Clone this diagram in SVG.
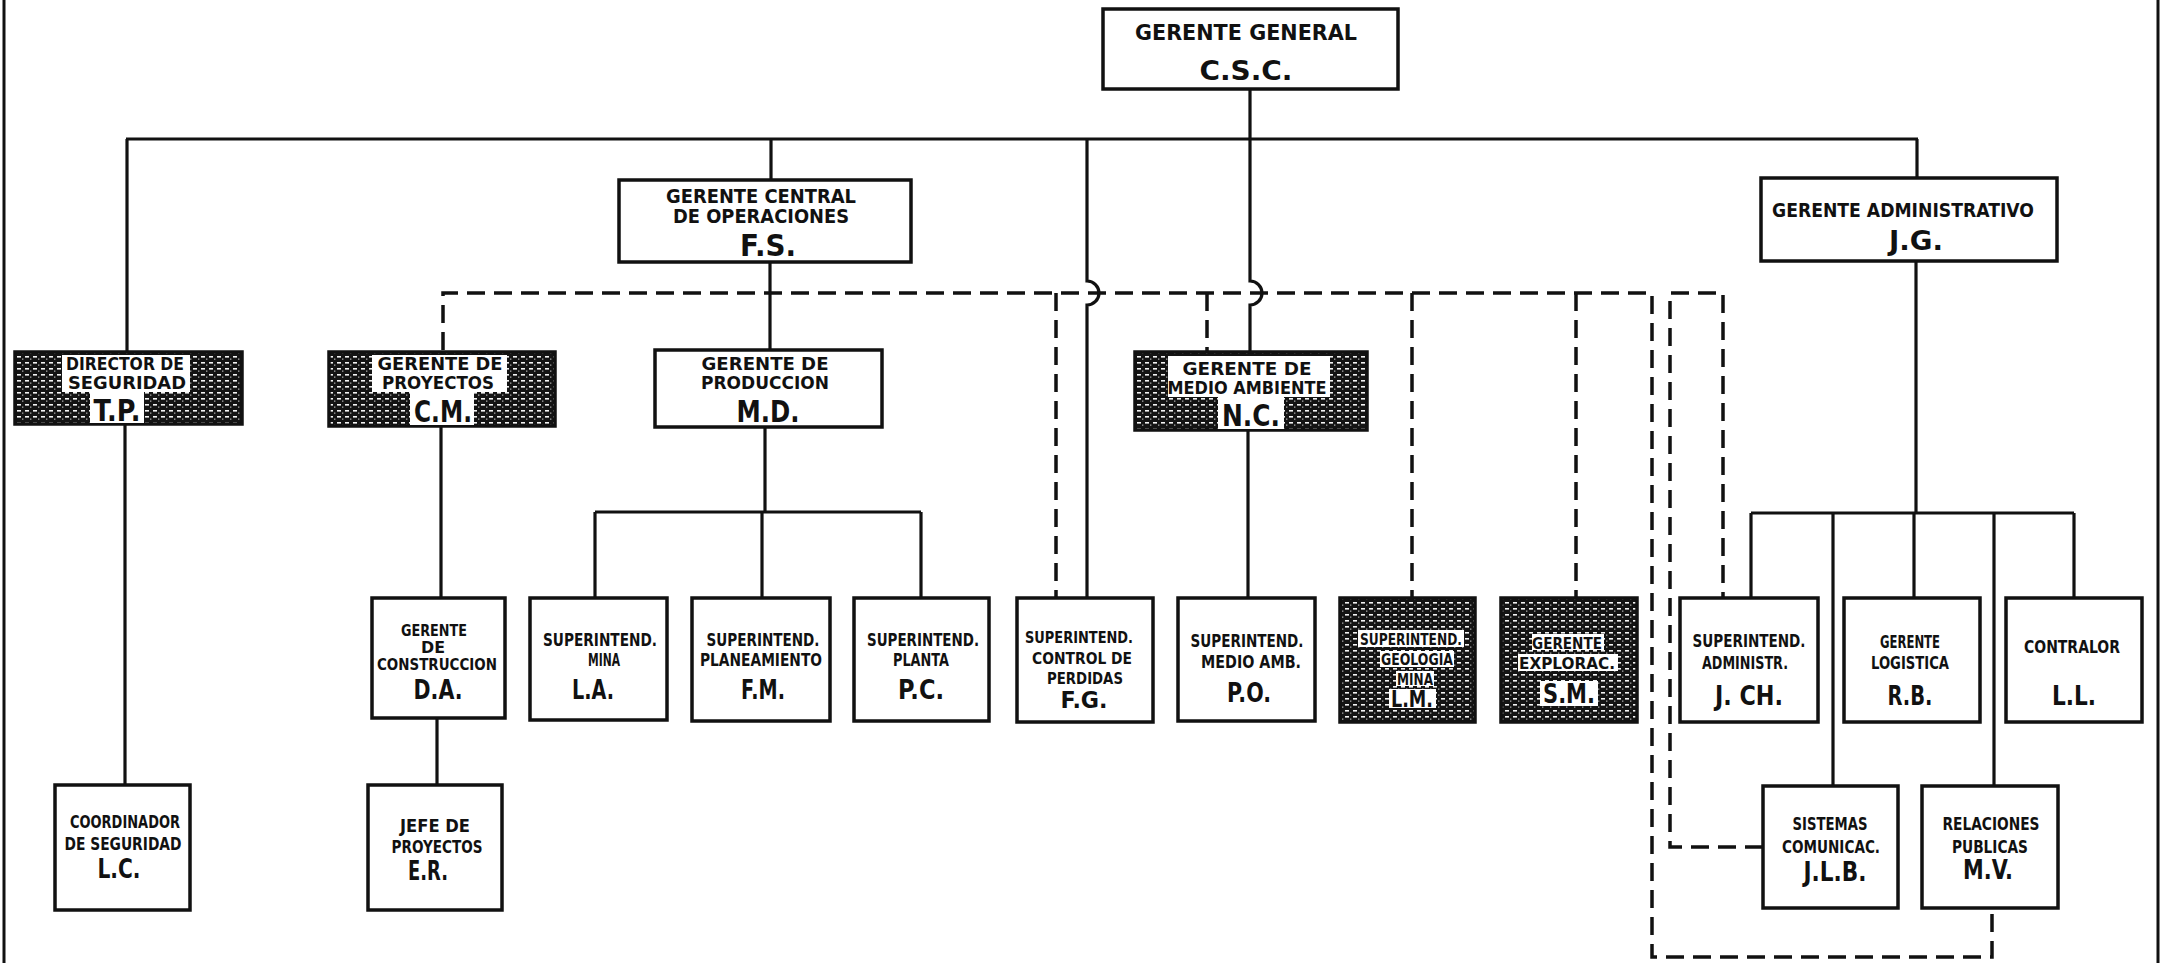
<svg xmlns="http://www.w3.org/2000/svg" width="2163" height="963" viewBox="0 0 2163 963">
<defs>
<pattern id="halftone" width="8" height="6" patternUnits="userSpaceOnUse">
<rect width="8" height="6" fill="#141414"/>
<rect x="1" y="2" width="4" height="1.6" fill="#f4f4f4"/>
<rect x="6" y="4.6" width="1.4" height="1" fill="#d0d0d0"/>
</pattern>
<style>
.box{fill:#fff;stroke:#111;stroke-width:3.5}
.hbox{fill:url(#halftone);stroke:#111;stroke-width:3.5}
.patch{fill:#fff}
.ln{fill:none;stroke:#111;stroke-width:3.2}
.dash{fill:none;stroke:#111;stroke-width:3.5;stroke-dasharray:18 9}
.border{fill:none;stroke:#111;stroke-width:3}
text{font-family:"DejaVu Sans","Liberation Sans",sans-serif;font-weight:bold;fill:#111;text-anchor:middle}
.t18{font-size:18px}
.t20{font-size:20px}
.t21{font-size:21px}
.big{font-size:30px}
.mid{font-size:26px}
.mid2{font-size:23px}
.sm{font-size:17px}
.xs{font-size:15px}
</style>
</defs>
<rect width="2163" height="963" fill="#fff"/>
<g id="page-border">
<path class="border" d="M4 0 V963"/>
<path class="border" d="M2158 0 V963"/>
</g>
<g id="connectors">
<path class="ln" d="M126 139 H1918"/>
<path class="ln" d="M1250 89 V281 A12 12 0 0 1 1250 305 V352"/>
<path class="ln" d="M127 139 V352"/>
<path class="ln" d="M771 139 V180"/>
<path class="ln" d="M1087 139 V281 A12 12 0 0 1 1087 305 V598"/>
<path class="ln" d="M1917 139 V178"/>
<path class="ln" d="M770 262 V350"/>
<path class="ln" d="M125 424 V785"/>
<path class="ln" d="M441 426 V598"/>
<path class="ln" d="M437 718 V785"/>
<path class="ln" d="M765 427 V512"/>
<path class="ln" d="M595 512 H921"/>
<path class="ln" d="M595 512 V598"/>
<path class="ln" d="M762 512 V598"/>
<path class="ln" d="M921 512 V598"/>
<path class="ln" d="M1248 430 V598"/>
<path class="ln" d="M1916 261 V513"/>
<path class="ln" d="M1751 513 H2074"/>
<path class="ln" d="M1751 513 V598"/>
<path class="ln" d="M1833 513 V786"/>
<path class="ln" d="M1914 513 V598"/>
<path class="ln" d="M1994 513 V786"/>
<path class="ln" d="M2074 513 V598"/>
<path class="dash" d="M443 350 V293 H1652 V957 H1992 V908"/>
<path class="dash" d="M1056 293 V598"/>
<path class="dash" d="M1207 293 V352"/>
<path class="dash" d="M1412 293 V598"/>
<path class="dash" d="M1576 293 V598"/>
<path class="dash" d="M1763 847 H1670 V293 H1723 V598"/>
</g>
<g id="gerente-general">
<rect class="box" x="1103" y="9" width="295" height="80"/>
<text class="t21" x="1246" y="40" textLength="222" lengthAdjust="spacingAndGlyphs">GERENTE GENERAL</text>
<text class="mid" x="1246" y="80" textLength="93" lengthAdjust="spacingAndGlyphs">C.S.C.</text>
</g>
<g id="gerente-central-operaciones">
<rect class="box" x="619" y="180" width="292" height="82"/>
<text class="t20" x="761" y="203" textLength="190" lengthAdjust="spacingAndGlyphs">GERENTE CENTRAL</text>
<text class="t20" x="761" y="223" textLength="176" lengthAdjust="spacingAndGlyphs">DE OPERACIONES</text>
<text class="big" x="768" y="256" textLength="56" lengthAdjust="spacingAndGlyphs">F.S.</text>
</g>
<g id="gerente-administrativo">
<rect class="box" x="1761" y="178" width="296" height="83"/>
<text class="t20" x="1903" y="217" textLength="262" lengthAdjust="spacingAndGlyphs">GERENTE ADMINISTRATIVO</text>
<text class="mid" x="1916" y="250" textLength="54" lengthAdjust="spacingAndGlyphs">J.G.</text>
</g>
<g id="director-seguridad">
<rect class="hbox" x="15" y="352" width="227" height="72"/>
<rect class="patch" x="62" y="355" width="128" height="37"/>
<rect class="patch" x="90" y="392" width="54" height="31"/>
<text class="t18" x="125" y="370" textLength="118" lengthAdjust="spacingAndGlyphs">DIRECTOR DE</text>
<text class="t18" x="127" y="389" textLength="118" lengthAdjust="spacingAndGlyphs">SEGURIDAD</text>
<text class="big" x="117" y="421" textLength="47" lengthAdjust="spacingAndGlyphs">T.P.</text>
</g>
<g id="gerente-proyectos">
<rect class="hbox" x="329" y="352" width="226" height="74"/>
<rect class="patch" x="372" y="355" width="135" height="37"/>
<rect class="patch" x="410" y="392" width="64" height="33"/>
<text class="t18" x="440" y="370" textLength="125" lengthAdjust="spacingAndGlyphs">GERENTE DE</text>
<text class="t18" x="438" y="389" textLength="112" lengthAdjust="spacingAndGlyphs">PROYECTOS</text>
<text class="big" x="443" y="422" textLength="58" lengthAdjust="spacingAndGlyphs">C.M.</text>
</g>
<g id="gerente-produccion">
<rect class="box" x="655" y="350" width="227" height="77"/>
<text class="t18" x="765" y="370" textLength="127" lengthAdjust="spacingAndGlyphs">GERENTE DE</text>
<text class="t18" x="765" y="389" textLength="128" lengthAdjust="spacingAndGlyphs">PRODUCCION</text>
<text class="big" x="768" y="422" textLength="63" lengthAdjust="spacingAndGlyphs">M.D.</text>
</g>
<g id="gerente-medio-ambiente">
<rect class="hbox" x="1135" y="352" width="232" height="78"/>
<rect class="patch" x="1168" y="356" width="162" height="41"/>
<rect class="patch" x="1218" y="397" width="66" height="32"/>
<text class="t18" x="1247" y="375" textLength="129" lengthAdjust="spacingAndGlyphs">GERENTE DE</text>
<text class="t18" x="1247" y="394" textLength="159" lengthAdjust="spacingAndGlyphs">MEDIO AMBIENTE</text>
<text class="big" x="1251" y="426" textLength="58" lengthAdjust="spacingAndGlyphs">N.C.</text>
</g>
<g id="gerente-construccion">
<rect class="box" x="372" y="598" width="133" height="120"/>
<text class="xs" x="434" y="636" textLength="66" lengthAdjust="spacingAndGlyphs">GERENTE</text>
<text class="xs" x="433" y="653" textLength="24" lengthAdjust="spacingAndGlyphs">DE</text>
<text class="xs" x="437" y="670" textLength="120" lengthAdjust="spacingAndGlyphs">CONSTRUCCION</text>
<text class="mid" x="438" y="699" textLength="49" lengthAdjust="spacingAndGlyphs">D.A.</text>
</g>
<g id="superintend-mina">
<rect class="box" x="530" y="598" width="137" height="122"/>
<text class="sm" x="600" y="646" textLength="114" lengthAdjust="spacingAndGlyphs">SUPERINTEND.</text>
<text class="sm" x="604" y="666" textLength="32" lengthAdjust="spacingAndGlyphs">MINA</text>
<text class="mid" x="593" y="699" textLength="42" lengthAdjust="spacingAndGlyphs">L.A.</text>
</g>
<g id="superintend-planeamiento">
<rect class="box" x="692" y="598" width="138" height="123"/>
<text class="sm" x="763" y="646" textLength="113" lengthAdjust="spacingAndGlyphs">SUPERINTEND.</text>
<text class="sm" x="761" y="666" textLength="122" lengthAdjust="spacingAndGlyphs">PLANEAMIENTO</text>
<text class="mid" x="763" y="699" textLength="44" lengthAdjust="spacingAndGlyphs">F.M.</text>
</g>
<g id="superintend-planta">
<rect class="box" x="854" y="598" width="135" height="123"/>
<text class="sm" x="923" y="646" textLength="112" lengthAdjust="spacingAndGlyphs">SUPERINTEND.</text>
<text class="sm" x="921" y="666" textLength="56" lengthAdjust="spacingAndGlyphs">PLANTA</text>
<text class="mid" x="921" y="699" textLength="46" lengthAdjust="spacingAndGlyphs">P.C.</text>
</g>
<g id="superintend-control-perdidas">
<rect class="box" x="1017" y="598" width="136" height="124"/>
<text class="xs" x="1079" y="643" textLength="108" lengthAdjust="spacingAndGlyphs">SUPERINTEND.</text>
<text class="xs" x="1082" y="664" textLength="100" lengthAdjust="spacingAndGlyphs">CONTROL DE</text>
<text class="xs" x="1085" y="684" textLength="76" lengthAdjust="spacingAndGlyphs">PERDIDAS</text>
<text class="mid2" x="1084" y="708" textLength="47" lengthAdjust="spacingAndGlyphs">F.G.</text>
</g>
<g id="superintend-medio-amb">
<rect class="box" x="1178" y="598" width="137" height="123"/>
<text class="sm" x="1247" y="647" textLength="113" lengthAdjust="spacingAndGlyphs">SUPERINTEND.</text>
<text class="sm" x="1251" y="668" textLength="100" lengthAdjust="spacingAndGlyphs">MEDIO AMB.</text>
<text class="mid" x="1249" y="702" textLength="44" lengthAdjust="spacingAndGlyphs">P.O.</text>
</g>
<g id="superintend-geologia-mina">
<rect class="hbox" x="1340" y="598" width="135" height="124"/>
<rect class="patch" x="1358" y="630" width="106" height="17"/>
<rect class="patch" x="1380" y="651" width="74" height="16"/>
<rect class="patch" x="1396" y="671" width="38" height="15"/>
<rect class="patch" x="1389" y="689" width="47" height="19"/>
<text class="xs" x="1411" y="645" textLength="102" lengthAdjust="spacingAndGlyphs">SUPERINTEND.</text>
<text class="xs" x="1417" y="665" textLength="72" lengthAdjust="spacingAndGlyphs">GEOLOGIA</text>
<text class="xs" x="1415" y="685" textLength="36" lengthAdjust="spacingAndGlyphs">MINA</text>
<text class="mid2" x="1412" y="707" textLength="42" lengthAdjust="spacingAndGlyphs">L.M.</text>
</g>
<g id="gerente-exploracion">
<rect class="hbox" x="1501" y="598" width="136" height="124"/>
<rect class="patch" x="1532" y="634" width="72" height="16"/>
<rect class="patch" x="1518" y="654" width="100" height="17"/>
<rect class="patch" x="1540" y="681" width="58" height="25"/>
<text class="xs" x="1567" y="649" textLength="70" lengthAdjust="spacingAndGlyphs">GERENTE</text>
<text class="xs" x="1567" y="669" textLength="96" lengthAdjust="spacingAndGlyphs">EXPLORAC.</text>
<text class="mid" x="1569" y="703" textLength="52" lengthAdjust="spacingAndGlyphs">S.M.</text>
</g>
<g id="superintend-administr">
<rect class="box" x="1680" y="598" width="138" height="124"/>
<text class="sm" x="1749" y="647" textLength="113" lengthAdjust="spacingAndGlyphs">SUPERINTEND.</text>
<text class="sm" x="1745" y="669" textLength="86" lengthAdjust="spacingAndGlyphs">ADMINISTR.</text>
<text class="mid" x="1749" y="705" textLength="68" lengthAdjust="spacingAndGlyphs">J. CH.</text>
</g>
<g id="gerente-logistica">
<rect class="box" x="1844" y="598" width="136" height="124"/>
<text class="sm" x="1910" y="648" textLength="60" lengthAdjust="spacingAndGlyphs">GERENTE</text>
<text class="sm" x="1910" y="669" textLength="78" lengthAdjust="spacingAndGlyphs">LOGISTICA</text>
<text class="mid" x="1910" y="705" textLength="45" lengthAdjust="spacingAndGlyphs">R.B.</text>
</g>
<g id="contralor">
<rect class="box" x="2006" y="598" width="136" height="124"/>
<text class="sm" x="2072" y="653" textLength="96" lengthAdjust="spacingAndGlyphs">CONTRALOR</text>
<text class="mid" x="2074" y="705" textLength="44" lengthAdjust="spacingAndGlyphs">L.L.</text>
</g>
<g id="coordinador-seguridad">
<rect class="box" x="55" y="785" width="135" height="125"/>
<text class="sm" x="125" y="828" textLength="110" lengthAdjust="spacingAndGlyphs">COORDINADOR</text>
<text class="sm" x="123" y="850" textLength="117" lengthAdjust="spacingAndGlyphs">DE SEGURIDAD</text>
<text class="mid" x="119" y="878" textLength="43" lengthAdjust="spacingAndGlyphs">L.C.</text>
</g>
<g id="jefe-proyectos">
<rect class="box" x="368" y="785" width="134" height="125"/>
<text class="sm" x="435" y="832" textLength="70" lengthAdjust="spacingAndGlyphs">JEFE DE</text>
<text class="sm" x="437" y="853" textLength="91" lengthAdjust="spacingAndGlyphs">PROYECTOS</text>
<text class="mid" x="428" y="880" textLength="40" lengthAdjust="spacingAndGlyphs">E.R.</text>
</g>
<g id="sistemas-comunicac">
<rect class="box" x="1763" y="786" width="135" height="122"/>
<text class="sm" x="1830" y="830" textLength="75" lengthAdjust="spacingAndGlyphs">SISTEMAS</text>
<text class="sm" x="1831" y="853" textLength="98" lengthAdjust="spacingAndGlyphs">COMUNICAC.</text>
<text class="mid" x="1835" y="881" textLength="63" lengthAdjust="spacingAndGlyphs">J.L.B.</text>
</g>
<g id="relaciones-publicas">
<rect class="box" x="1922" y="786" width="136" height="122"/>
<text class="sm" x="1991" y="830" textLength="97" lengthAdjust="spacingAndGlyphs">RELACIONES</text>
<text class="sm" x="1990" y="853" textLength="76" lengthAdjust="spacingAndGlyphs">PUBLICAS</text>
<text class="mid" x="1988" y="879" textLength="50" lengthAdjust="spacingAndGlyphs">M.V.</text>
</g>
</svg>
